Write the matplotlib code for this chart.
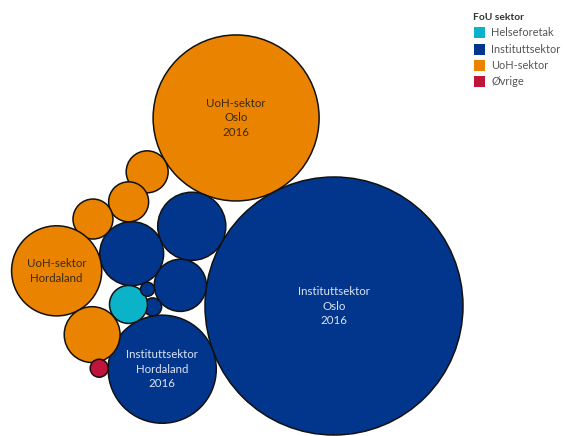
import numpy as np
import matplotlib
matplotlib.use("Agg")
import matplotlib.pyplot as plt
from matplotlib.patches import Circle, Rectangle

plt.rcParams['font.family'] = ['Lato', 'DejaVu Sans']

# Bubble data: FoU sector, region label and size value (bubble area)
sectors = ["Instituttsektor", "UoH-sektor", "Instituttsektor", "Instituttsektor",
           "Instituttsektor", "Instituttsektor", "Instituttsektor", "Helseforetak",
           "Instituttsektor", "UoH-sektor", "UoH-sektor", "UoH-sektor",
           "UoH-sektor", "UoH-sektor", "Øvrige"]
labels = ["Instituttsektor\nOslo\n2016", "UoH-sektor\nOslo\n2016",
          "Instituttsektor\nHordaland\n2016", "", "", "", "", "", "", "", "", "",
          "UoH-sektor\nHordaland", "", ""]
values = [1664, 689, 292, 116, 68, 102, 8.1, 36, 4.9, 44, 40, 40, 203, 78, 8.1]

legend_title = "FoU sektor"
legend_items = ["Helseforetak", "Instituttsektor", "UoH-sektor", "Øvrige"]
colors = {"Helseforetak": "#0BB3C8", "Instituttsektor": "#02368C",
          "UoH-sektor": "#EA8400", "Øvrige": "#C0143C"}
text_colors = {"Instituttsektor": "#DCE3F0", "UoH-sektor": "#3A2A12"}

# Radius in pixels from bubble area
scale = 10.0
radii = [np.sqrt(v * scale) for v in values]

# Packing layout: each bubble is either the anchor, placed against a parent at an
# angle, or set tangent to two already placed bubbles (side = +1 / -1).
layout = [
    ("anchor", (334, 306)),
    ("angle", 0, -117.5),
    ("angle", 0, 159.8),
    ("pair", 0, 1, -1),
    ("pair", 0, 3, -1),
    ("pair", 3, 4, +1),
    ("pair", 4, 2, +1),
    ("pair", 5, 2, +1),
    ("pair", 5, 4, +1),
    ("angle", 1, 148.8),
    ("angle", 5, -93.4),
    ("angle", 5, -138.2),
    ("angle", 5, 167.1),
    ("angle", 12, 60.9),
    ("angle", 2, 180.9),
]


def tangent_pair(c1, r1, c2, r2, r, side):
    c1 = np.asarray(c1, float)
    c2 = np.asarray(c2, float)
    d = c2 - c1
    dist = np.hypot(*d)
    a_ = r1 + r
    b_ = r2 + r
    a = (a_ ** 2 - b_ ** 2 + dist ** 2) / (2 * dist)
    h = np.sqrt(max(a_ ** 2 - a ** 2, 0.0))
    u = d / dist
    perp = np.array([-u[1], u[0]])
    return c1 + a * u + side * h * perp


centers = [None] * len(values)
for i, spec in enumerate(layout):
    if spec[0] == "anchor":
        centers[i] = np.array(spec[1], float)
    elif spec[0] == "angle":
        p, ang = spec[1], np.deg2rad(spec[2])
        dist = radii[p] + radii[i]
        centers[i] = centers[p] + dist * np.array([np.cos(ang), np.sin(ang)])
    else:
        p1, p2, side = spec[1], spec[2], spec[3]
        centers[i] = tangent_pair(centers[p1], radii[p1], centers[p2], radii[p2],
                                  radii[i], side)

W, H = 563, 436
fig = plt.figure(figsize=(W / 100, H / 100), dpi=100)
ax = fig.add_axes([0, 0, 1, 1])
ax.set_xlim(0, W)
ax.set_ylim(H, 0)
ax.set_aspect("equal")
ax.axis("off")

for c, r, s, lab in zip(centers, radii, sectors, labels):
    ax.add_patch(Circle(c, r, facecolor=colors[s], edgecolor="#111111",
                        linewidth=1.1, zorder=2))
    if lab:
        ax.text(c[0], c[1], lab, ha="center", va="center", fontsize=8.3,
                color=text_colors.get(s, "white"), linespacing=1.4, zorder=3)

# Legend
ax.text(473, 17, legend_title, ha="left", va="center", fontsize=7.4,
        fontweight="bold", color="#333333")
for k, name in enumerate(legend_items):
    y = 33 + k * 16.3
    ax.add_patch(Rectangle((474, y - 5.5), 11, 11, facecolor=colors[name],
                           edgecolor="none"))
    ax.text(491, y, name, ha="left", va="center", fontsize=7.9, color="#555555")

fig.savefig("out.png", dpi=100)
